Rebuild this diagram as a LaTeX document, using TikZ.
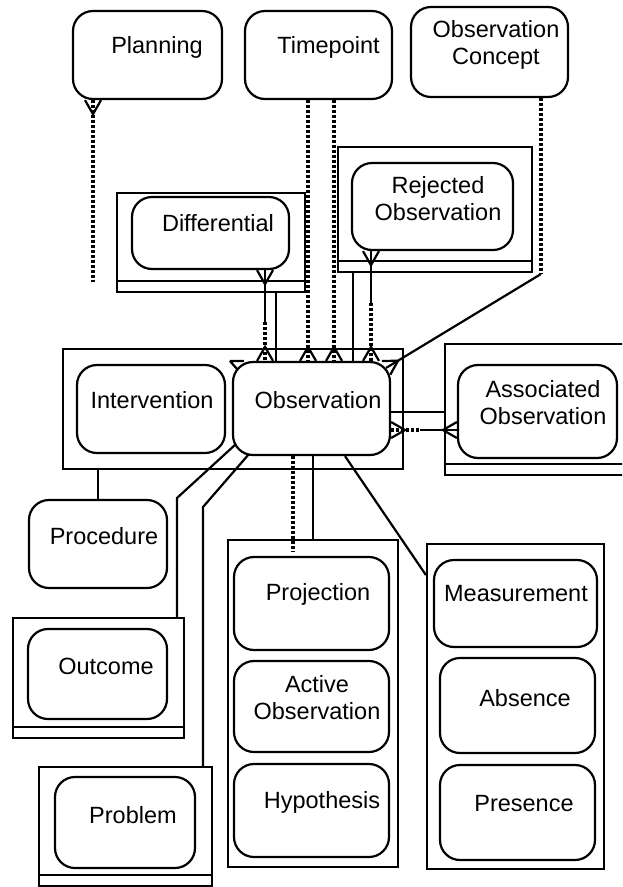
\documentclass[tikz,border=0pt]{standalone}
\usepackage{fontspec}
\setmainfont{Liberation Sans}
\usetikzlibrary{calc}

% crow's foot: #1 point on the box, #2 a point along the line
\newcommand{\crowfoot}[2]{\draw[conn] ($(#1)!8pt!90:(#2)$) -- ($(#1)!14pt!(#2)$) -- ($(#1)!8pt!-90:(#2)$);}

\begin{document}
\begin{tikzpicture}[x=1pt,y=-1pt,
  ent/.style={draw,rounded corners=20pt,line width=2.2pt,inner sep=0pt},
  grp/.style={draw,line width=2.2pt,inner sep=0pt},
  tabbed/.style={grp,path picture={\draw[line width=2.2pt] ([yshift=11pt]path picture bounding box.south west) -- ([yshift=11pt]path picture bounding box.south east);}},
  txt/.style={font=\fontsize{23.5}{27}\selectfont,align=center,inner sep=0pt},
  conn/.style={line width=2.2pt},
  dots/.style={line width=3.2pt,dash pattern=on 3pt off 2pt}]

\useasboundingbox (0,0) rectangle (622,887);
\clip (0,0) rectangle (622,887);

% containers
\node[tabbed,minimum width=188,minimum height=99] (diffbox) at (211,242.5) {};
\node[tabbed,minimum width=194,minimum height=125] (rejbox) at (435,209.5) {};
\node[grp,minimum width=340,minimum height=120] (obsgrp) at (233,409) {};
\node[tabbed,minimum width=185,minimum height=131] (assocbox) at (537.5,409.5) {};
\node[tabbed,minimum width=171,minimum height=120] (outbox) at (98.5,678) {};
\node[tabbed,minimum width=173,minimum height=119] (probbox) at (125.5,826.5) {};
\node[grp,minimum width=170,minimum height=327] (projgrp) at (313,703.5) {};
\node[grp,minimum width=177,minimum height=325] (measgrp) at (515.5,706.5) {};

% entities
\node[ent,minimum width=149,minimum height=88,label={[txt,xshift=9.5pt,yshift=8pt]center:Planning}] (plan) at (147.5,55) {};
\node[ent,minimum width=147,minimum height=88,label={[txt,xshift=10pt,yshift=8pt]center:Timepoint}] (time) at (318.5,55) {};
\node[ent,minimum width=157,minimum height=90,label={[txt,xshift=6.5pt,yshift=7pt]center:{Observation\\Concept}}] (concept) at (489.5,52) {};
\node[ent,minimum width=157,minimum height=72,label={[txt,xshift=7.5pt,yshift=10pt]center:Differential}] (diff) at (210.5,233) {};
\node[ent,minimum width=161,minimum height=87,label={[txt,xshift=5.5pt,yshift=8pt]center:{Rejected\\Observation}}] (rej) at (432.5,206.5) {};
\node[ent,minimum width=148,minimum height=88,label={[txt,xshift=1pt,yshift=9pt]center:Intervention}] (interv) at (151,409) {};
\node[ent,minimum width=157,minimum height=93,label={[txt,xshift=6.5pt,yshift=8.5pt]center:Observation}] (obs) at (311.5,408.5) {};
\node[ent,minimum width=159,minimum height=93,label={[txt,xshift=5.5pt,yshift=9pt]center:{Associated\\Observation}}] (assoc) at (537.5,411.5) {};
\node[ent,minimum width=138,minimum height=88,label={[txt,xshift=6pt,yshift=8pt]center:Procedure}] (proc) at (98,544) {};
\node[ent,minimum width=139,minimum height=90,label={[txt,xshift=8.5pt,yshift=8pt]center:Outcome}] (outc) at (97.5,674) {};
\node[ent,minimum width=140,minimum height=91,label={[txt,xshift=8pt,yshift=7.5pt]center:Problem}] (prob) at (125,822.5) {};
\node[ent,minimum width=155,minimum height=93,label={[txt,xshift=6.5pt,yshift=9.5pt]center:Projection}] (proj) at (311.5,603.5) {};
\node[ent,minimum width=155,minimum height=91,label={[txt,xshift=5.5pt,yshift=9pt]center:{Active\\Observation}}] (active) at (311.5,706.5) {};
\node[ent,minimum width=155,minimum height=93,label={[txt,xshift=10.5pt,yshift=8.5pt]center:Hypothesis}] (hypo) at (311.5,810.5) {};
\node[ent,minimum width=163,minimum height=87,label={[txt,xshift=0.5pt,yshift=9.5pt]center:Measurement}] (meas) at (515.5,603.5) {};
\node[ent,minimum width=155,minimum height=95,label={[txt,xshift=7.5pt,yshift=7.5pt]center:Absence}] (absn) at (517.5,705.5) {};
\node[ent,minimum width=155,minimum height=95,label={[txt,xshift=6.5pt,yshift=8.5pt]center:Presence}] (pres) at (517.5,812.5) {};

% planning (loose end)
\coordinate (pA) at (plan.south -| 93,0);
\coordinate (pB) at (93,282);
\draw[conn,dots] (pA) -- (pB);
\crowfoot{pA}{pB}

% timepoint
\foreach \x in {308,334} {
  \coordinate (tA) at (time.south -| \x,0);
  \coordinate (tB) at (obs.north -| \x,0);
  \draw[conn,dots] (tA) -- (tB);
  \crowfoot{tB}{tA}
}

% differential
\coordinate (dA) at (diff.south -| 265,0);
\coordinate (dB) at (obs.north -| 265,0);
\draw[conn] (dA) -- ($(dA)!0.57!(dB)$);
\draw[conn,dots] ($(dA)!0.57!(dB)$) -- (dB);
\crowfoot{dA}{dB}
\crowfoot{dB}{dA}
\draw[conn] (diffbox.south -| 276,0) -- (obs.north -| 276,0);

% rejected observation
\coordinate (rA) at (rej.south -| 371,0);
\coordinate (rB) at (obs.north -| 371,0);
\draw[conn] (rA) -- ($(rA)!0.47!(rB)$);
\draw[conn,dots] ($(rA)!0.47!(rB)$) -- (rB);
\crowfoot{rA}{rB}
\crowfoot{rB}{rA}
\draw[conn] (rejbox.south -| 353,0) -- (obs.north -| 353,0);

% observation concept
\coordinate (cA) at (concept.south -| 541,0);
\coordinate (cB) at (541,274);
\coordinate (cC) at ([shift={(-5,7)}]obs.north east);
\draw[conn,dots] (cA) -- (cB);
\draw[conn] (cB) -- (cC);
\crowfoot{cC}{cB}

% associated observation
\coordinate (aA) at ([yshift=-3.5pt]obs.east);
\draw[conn] (aA) -- (aA -| assocbox.west);
\coordinate (aC) at ([yshift=-21.5pt]obs.east);
\coordinate (aD) at (aC -| assoc.west);
\draw[conn,dots] (aC) -- ($(aC)!0.44!(aD)$);
\draw[conn] ($(aC)!0.44!(aD)$) -- (aD);
\crowfoot{aC}{aD}
\crowfoot{aD}{aC}

% lower links
\draw[conn] (obsgrp.south -| proc.north) -- (proc.north);
\draw[conn] ([shift={(4,-12)}]obs.south west) -- (177,498) -- (outbox.north -| 177,0);
\draw[conn] ([shift={(17,-2)}]obs.south west) -- (203,507) -- (probbox.north -| 203,0);
\draw[conn,dots] (obs.south -| 293,0) -- (293,552) coordinate (jEnd);
\draw[conn] (obs.south -| 313,0) -- (projgrp.north -| 313,0);
\draw[conn] (obs.south -| 345,0) -- (measgrp.west |- 0,575);
\draw[conn] ([xshift=-2pt]obs.north west) -- ++(14,0) ([xshift=-2pt]obs.north west) -- ++(7,8);

\end{tikzpicture}
\end{document}
